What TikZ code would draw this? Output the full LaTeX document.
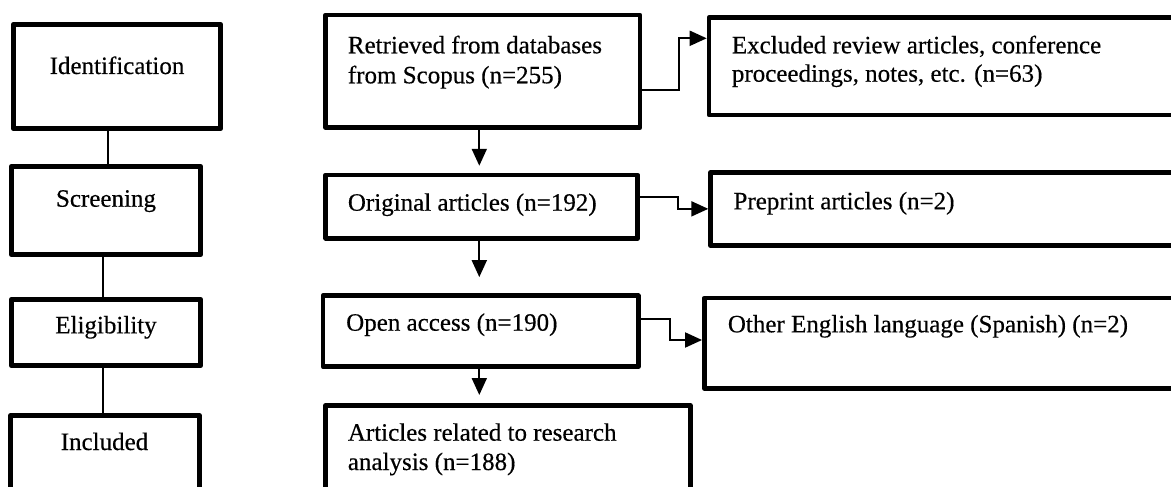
\documentclass[tikz,border=0pt]{standalone}
\usepackage{fontspec}
\setmainfont{Liberation Serif}
\newfontface\labelface{Liberation Serif}[FakeBold=0.4]
\usetikzlibrary{arrows.meta}
\begin{document}
\begin{tikzpicture}[x=1pt,y=-1pt,
  box/.style={draw=black, line width=4.6pt, line join=round, inner sep=0pt},
  txt/.style={font=\labelface\fontsize{25}{30}\selectfont, inner sep=0pt, anchor=base west},
  link/.style={draw=black, line width=2pt},
  arr/.style={draw=black, line width=2pt, -{Triangle[length=17pt,width=15pt]}}]
\fill[white] (0,0) rectangle (1171,487);
\useasboundingbox (0,0) rectangle (1171,487);

% stage column
\node[box, minimum width=207.4pt, minimum height=104.4pt] (ident)  at (117,76.5) {};
\node[box, minimum width=189.4pt, minimum height=88.4pt]  (screen) at (106,210.5) {};
\node[box, minimum width=189.4pt, minimum height=66.4pt]  (elig)   at (106,332.5) {};
\node[box, minimum width=189.4pt, minimum height=95pt]    (incl)   at (105,463) {};

\node[txt, anchor=base] at (117,74)    {Identification};
\node[txt, anchor=base] at (106,206.7) {Screening};
\node[txt, anchor=base] at (106,333.3) {Eligibility};
\node[txt, anchor=base] at (104.5,450) {Included};

\draw[link] ([xshift=-9pt]ident.south) -- ([xshift=-9pt]ident.south |- screen.north);
\draw[link] ([xshift=-3pt]screen.south) -- ([xshift=-3pt]screen.south |- elig.north);
\draw[link] ([xshift=-3pt]elig.south) -- ([xshift=-3pt]elig.south |- incl.north);

% record flow
\node[box, minimum width=314.4pt, minimum height=112.7pt] (ret)  at (482.8,71.3) {};
\node[box, minimum width=312pt,   minimum height=63.3pt]  (orig) at (481.7,206.7) {};
\node[box, minimum width=315.3pt, minimum height=71pt]    (open) at (480.7,331.2) {};
\node[box, minimum width=364.7pt, minimum height=104pt]   (rel)  at (508,457.6) {};

\node[txt] at (347.7,53.3)  {Retrieved from databases};
\node[txt] at (347.7,83.3)  {from Scopus (n=255)};
\node[txt] at (347.7,210.7) {Original articles (n=192)};
\node[txt] at (346,330.7)   {Open access (n=190)};
\node[txt] at (347.7,440.7) {Articles related to research};
\node[txt] at (347.7,470)   {analysis (n=188)};

% exclusions
\node[box, minimum width=491pt,   minimum height=97.4pt] (excl) at (954.5,66.3) {};
\node[box, minimum width=489.4pt, minimum height=73.1pt] (pre)  at (955.3,208.85) {};
\node[box, minimum width=495.7pt, minimum height=90.4pt] (lang) at (952.2,343.2) {};

\node[txt] at (731.7,53.3)  {Excluded review articles, conference};
\node[txt] at (731.7,81.7)  {proceedings, notes, etc. (n=63)};
\node[txt] at (733.3,209.3) {Preprint articles (n=2)};
\node[txt] at (727.7,332.3) {Other English language (Spanish) (n=2)};

% arrows
\draw[arr, shorten >=7pt] ([xshift=-3.5pt]ret.south) -- ([xshift=-3.5pt]ret.south |- orig.north);
\draw[arr, shorten >=16.3pt] ([xshift=-2.4pt]orig.south) -- ([xshift=-2.4pt]orig.south |- open.north);
\draw[arr, shorten >=8.3pt] ([xshift=-1.4pt]open.south) -- ([xshift=-1.4pt]open.south |- rel.north);

\draw[arr] ([yshift=-18.7pt]ret.east) -- ++(36.7,0) |- ([yshift=28pt]excl.west);
\draw[arr] ([yshift=10pt]orig.east) -- ++(38.3,0) |- (pre.west);
\draw[arr] ([yshift=12.2pt]open.east) -- ++(29,0) |- ([yshift=3.2pt]lang.west);
\end{tikzpicture}
\end{document}
